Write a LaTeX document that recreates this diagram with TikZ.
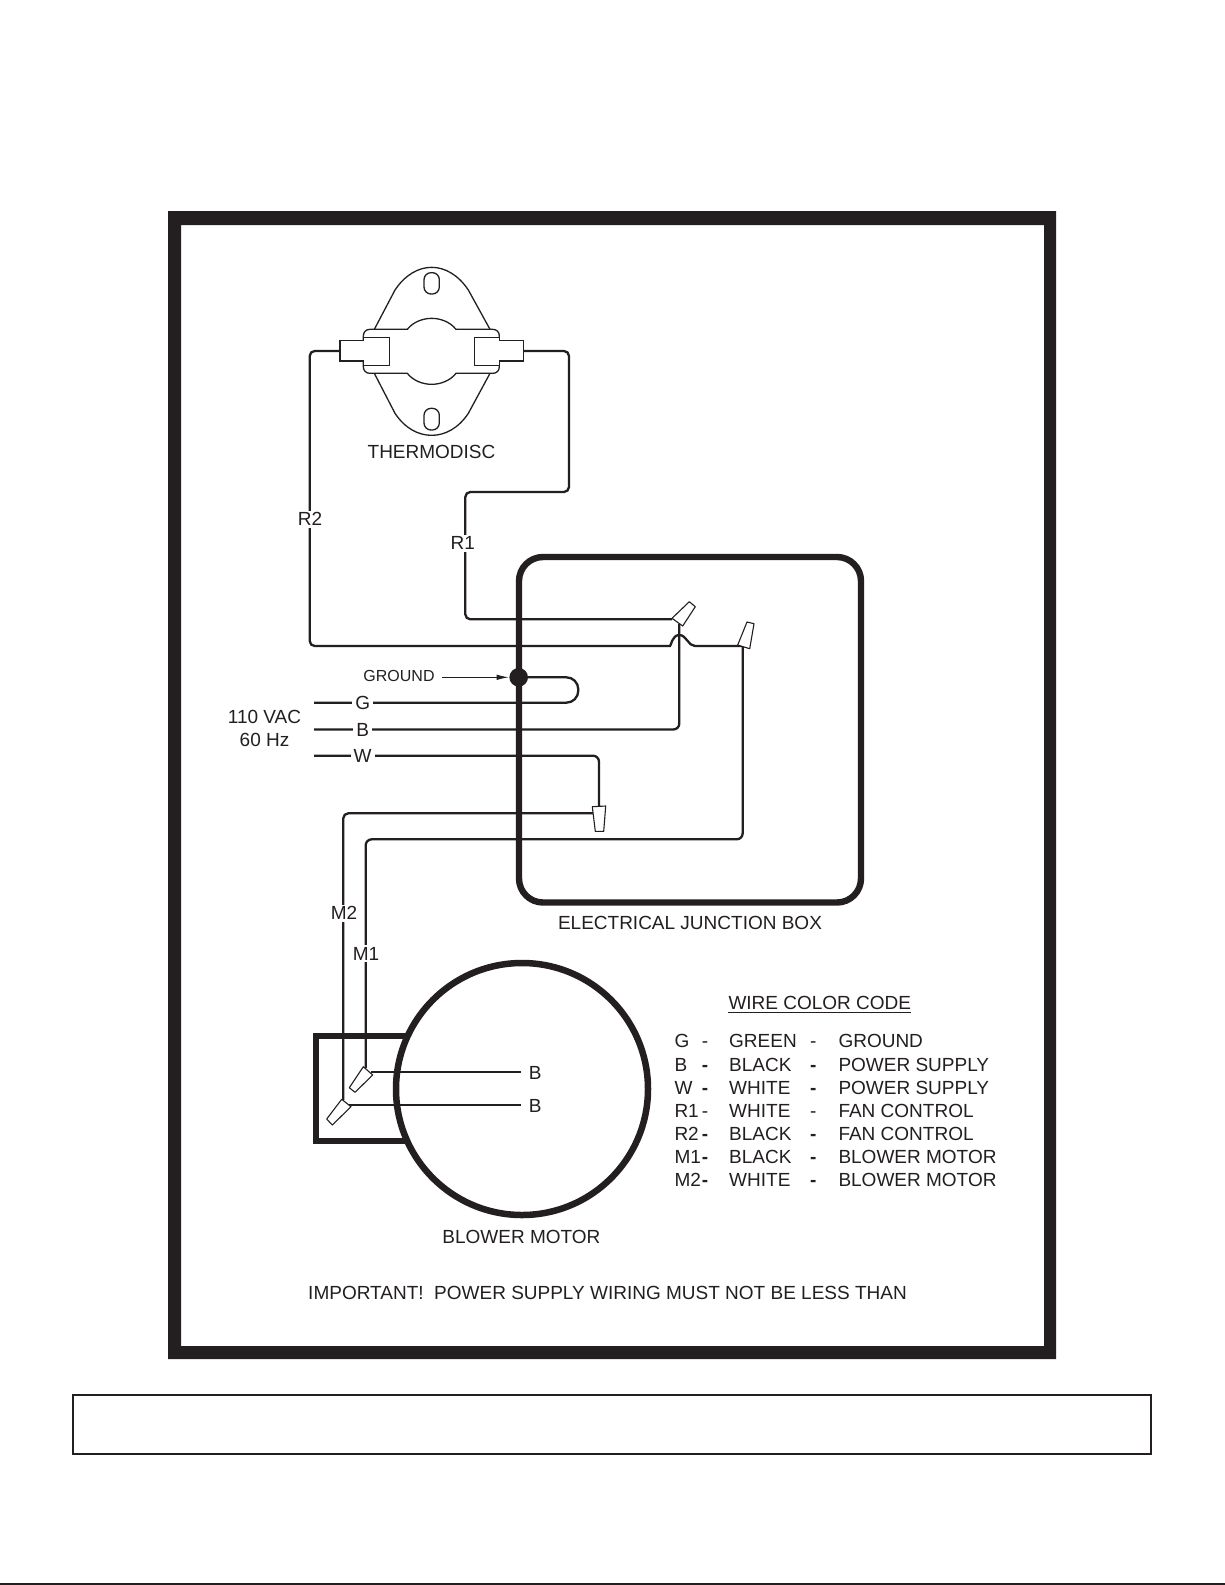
\documentclass[tikz,border=0pt]{standalone}
\usepackage{fontspec}
\setmainfont{Liberation Sans}
\usetikzlibrary{arrows.meta,shapes.geometric}
\definecolor{ink}{HTML}{231F20}
\tikzset{
  wire/.style={line width=2.3pt,draw=ink,rounded corners=5pt},
  thinpart/.style={line width=1.3pt,draw=ink,fill=white},
  nut/.style={line width=1.1pt,draw=ink,fill=white,line join=round},
  heavy/.style={line width=6.4pt,draw=ink},
  lbl/.style={font=\fontsize{19}{23}\selectfont,text=ink,inner sep=0pt},
  wlabel/.style={lbl,fill=white,inner xsep=3pt,inner ysep=2pt},
  small/.style={font=\fontsize{16}{19}\selectfont,text=ink,inner sep=0pt},
}
\newcommand\legrow[7]{%
  \node[lbl,anchor=base west] (lega#1) at (674.3,#2) {#3};
  \node[lbl,anchor=base] (legd#1) at (705,#2) {#4-};
  \node[lbl,anchor=base west] (legb#1) at (729,#2) {#5};
  \node[lbl,anchor=base] (lege#1) at (813.3,#2) {#6-};
  \node[lbl,anchor=base west] (legc#1) at (838.3,#2) {#7};
}
\begin{document}
\begin{tikzpicture}[x=1pt,y=-1pt]
\useasboundingbox (0,0) rectangle (1225,1585);
\fill[white] (0,0) rectangle (1225,1585);
% outer frame
\fill[ink,even odd rule] (168,211) rectangle (1056,1359) (181,225) rectangle (1044,1346);
% bottom box and page rule
\draw[ink,line width=2pt] (73,1395) rectangle (1151,1454);
\fill[ink] (0,1583.2) rectangle (1225,1585);

% named wire ends
\coordinate (tl) at (340,351);
\coordinate (tr) at (523.3,351);
\coordinate (n1a) at (672,619.3);
\coordinate (n1b) at (679.3,624);
\coordinate (n2a) at (742.7,646);
\coordinate (n3a) at (594,813.3);
\coordinate (n3b) at (599,807);
\coordinate (inG) at (314,702.7);
\coordinate (inB) at (314,729.5);
\coordinate (inW) at (314,755.7);
\coordinate (m1e) at (365.7,1068);
\coordinate (m1h) at (371,1072.3);
\coordinate (m2e) at (343.3,1100);
\coordinate (m2h) at (349,1105);

% junction box
\draw[heavy,rounded corners=24pt] (519,557) rectangle (861,902.5);

% motor
\draw[line width=5.8pt,draw=ink,line join=miter] (440,1036.3) -- (315.7,1036.3) -- (315.7,1141) -- (440,1141);
\draw[line width=6.5pt,draw=ink,fill=white] (522,1089) circle (126);

% labels that sit on wires and at wire ends
\node[lbl] (bt1) at (535.3,1073.3) {B};
\node[lbl] (bt2) at (535.3,1105.7) {B};
\node[circle,fill=ink,inner sep=0pt,minimum size=18.6pt] (gnd) at (518.7,677.3) {};
\node[small] (gl) at (399,676) {GROUND};

% wires
\draw[wire] (tl) -- (309.7,351) -- (309.7,646) -- (665,646) [sharp corners]
  .. controls (671,646) and (672,635) .. (679.3,635)
  .. controls (686.6,635) and (688,646) .. (695,646) -- (n2a);
\draw[wire] (tr) -- (569,351) -- (569,492) -- (465.3,492) -- (465.3,619.3) -- (n1a);
\draw[wire,rounded corners=12pt] (inG) -- (578.3,702.7) -- (578.3,677.3) -- (gnd);
\draw[wire,rounded corners=6pt] (inB) -- (679.3,729.5) -- (n1b);
\draw[wire,rounded corners=6pt] (inW) -- (599,755.7) -- (n3b);
\draw[wire] (n3a) -- (343.3,813.3) -- (m2e);
\draw[wire,rounded corners=6pt] (n2a) -- (742.7,839.3) -- (365.7,839.3) -- (m1e);
\draw[wire,shorten >=8pt] (m1h) -- (bt1.west |- m1h);
\draw[wire,shorten >=8pt] (m2h) -- (bt2.west |- m2h);

% arrow to ground
\draw[ink,line width=0.9pt,-{Latex[length=12pt,width=5.5pt]},shorten <=7pt,shorten >=0.5pt] (gl.east |- gnd) -- (gnd);

% wire nuts
\draw[nut] (672,618.3) -- (689.3,601.7) -- (695.3,606.7) -- (682.7,626) -- cycle;
\draw[nut] (737.7,645) -- (747,622) -- (754,623.7) -- (749.7,648.7) -- cycle;
\draw[nut] (592.3,806.7) -- (605.7,806) -- (603.7,831.3) -- (595.3,831.3) -- cycle;
\draw[nut] (363.3,1066.7) -- (372.7,1075) -- (355,1092.3) -- (349.3,1087.7) -- cycle;
\draw[nut] (341.7,1099.3) -- (351,1106.7) -- (332.3,1125) -- (326.7,1119) -- cycle;

% thermodisc, in a local grid
\begin{scope}[shift={(280,250)},x=0.33333pt,y=-0.33333pt]
  \draw[thinpart] (283,238) -- (345,120) .. controls (375,75) and (415,52) .. (455,52)
     .. controls (495,52) and (535,75) .. (565,120) -- (630,238);
  \draw[thinpart] (283,370) -- (345,490) .. controls (375,535) and (415,556) .. (455,556)
     .. controls (495,556) and (535,535) .. (565,490) -- (630,370);
  \draw[thinpart,rounded corners=7pt] (432,68) rectangle (478,132);
  \draw[thinpart,rounded corners=7pt] (432,475) rectangle (478,540);
  \draw[thinpart] (382,238) .. controls (400,215) and (430,205) .. (455,205)
     .. controls (480,205) and (510,215) .. (528,238) -- (638,238)
     .. controls (650,238) and (658,246) .. (658,258) -- (658,350)
     .. controls (658,362) and (650,370) .. (638,370) -- (528,370)
     .. controls (510,393) and (480,403) .. (455,403)
     .. controls (430,403) and (400,393) .. (382,370) -- (270,370)
     .. controls (258,370) and (250,362) .. (250,350) -- (250,258)
     .. controls (250,246) and (258,238) .. (270,238) -- cycle;
  \draw[thinpart] (180,271) -- (250,271) -- (250,262) -- (329,262) -- (329,346) -- (250,346) -- (250,333) -- (180,333) -- cycle;
  \draw[thinpart] (583,262) -- (658,262) -- (658,271) -- (730,271) -- (730,333) -- (658,333) -- (658,346) -- (583,346) -- cycle;
\end{scope}

% wire labels
\node[wlabel] (r2) at (310,519.3) {R2};
\node[wlabel] (r1) at (462.7,543.3) {R1};
\node[wlabel] (lg) at (362.7,702.7) {G};
\node[wlabel] (lb) at (362.7,729.5) {B};
\node[wlabel] (lw) at (362.7,755.7) {W};
\node[wlabel] (m2) at (344,913.3) {M2};
\node[wlabel] (m1) at (366,953.7) {M1};

% text
\node[lbl] (thermo) at (431.5,451.5) {THERMODISC};
\node[lbl] (v110) at (264.5,716.7) {110 VAC};
\node[lbl] (hz60) at (264.5,739.5) {60 Hz};
\node[lbl] (ejb) at (690,923.3) {ELECTRICAL JUNCTION BOX};
\node[lbl] (bm) at (521.4,1236.7) {BLOWER MOTOR};
\node[lbl] (imp) at (607.5,1292.5) {IMPORTANT!\ \ POWER SUPPLY WIRING MUST NOT BE LESS THAN};

% legend
\node[lbl,anchor=base west] (wcc) at (728.3,1009) {WIRE COLOR CODE};
\draw[ink,line width=1.2pt] ([yshift=-3.7pt]wcc.base west) -- ([yshift=-3.7pt]wcc.base east);
\legrow{1}{1047.7}{G}{}{GREEN}{}{GROUND}
\legrow{2}{1071}{B}{\bfseries}{BLACK}{\bfseries}{POWER SUPPLY}
\legrow{3}{1094.3}{W}{\bfseries}{WHITE}{\bfseries}{POWER SUPPLY}
\legrow{4}{1117.5}{R1}{}{WHITE}{}{FAN CONTROL}
\legrow{5}{1140.7}{R2}{\bfseries}{BLACK}{\bfseries}{FAN CONTROL}
\legrow{6}{1163.7}{M1}{\bfseries}{BLACK}{\bfseries}{BLOWER MOTOR}
\legrow{7}{1186.7}{M2}{\bfseries}{WHITE}{\bfseries}{BLOWER MOTOR}
\end{tikzpicture}
\end{document}
